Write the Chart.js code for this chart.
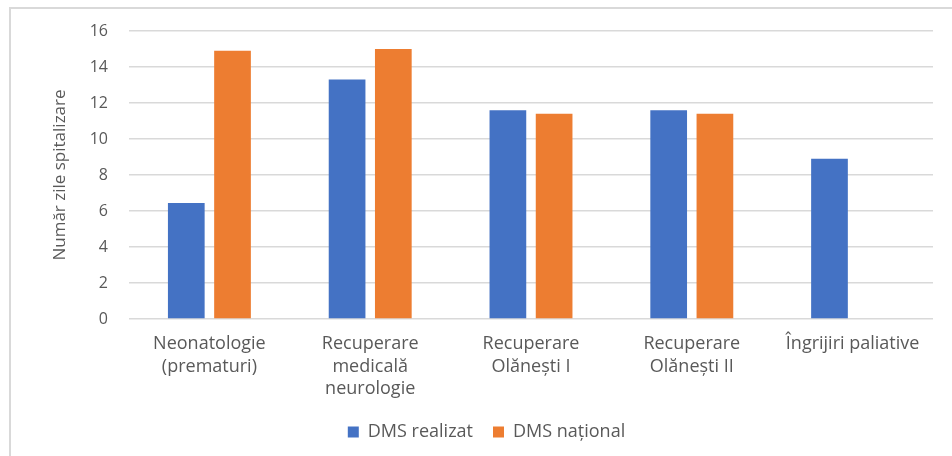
<!DOCTYPE html>
<html lang="ro">
<head>
<meta charset="utf-8">
<title>Durata medie de spitalizare</title>
<script src="https://cdn.jsdelivr.net/npm/chart.js@4/dist/chart.umd.min.js"></script>
<style>
  html, body { margin: 0; padding: 0; background: #ffffff; }
  canvas { display: block; }
</style>
</head>
<body>
<canvas id="chart" width="952" height="456"></canvas>
<script>
// Secții / categorii
const categories = [
  ["Neonatologie", "(prematuri)"],
  ["Recuperare", "medicală", "neurologie"],
  ["Recuperare", "Olănești I"],
  ["Recuperare", "Olănești II"],
  "Îngrijiri paliative"
];

// Durata medie de spitalizare (zile)
const dmsRealizat = [6.45, 13.3, 11.6, 11.6, 8.9];
const dmsNational = [14.9, 15.0, 11.4, 11.4, null];

const seriesNames = ["DMS realizat", "DMS național"];
const yTicks = [0, 2, 4, 6, 8, 10, 12, 14, 16];

const FONT = "'Open Sans', 'DejaVu Sans', sans-serif";
const TEXT = "#595959";
const GRID = "#d9d9d9";

// Chenarul exterior al diagramei (doar sus și în stânga)
const framePlugin = {
  id: "frame",
  beforeDraw(chart) {
    const ctx = chart.ctx;
    ctx.save();
    ctx.fillStyle = "#ffffff";
    ctx.fillRect(0, 0, chart.width, chart.height);
    ctx.strokeStyle = GRID;
    ctx.lineWidth = 2;
    ctx.beginPath();
    ctx.moveTo(10, chart.height);
    ctx.lineTo(10, 8);
    ctx.lineTo(chart.width, 8);
    ctx.stroke();
    ctx.restore();
  }
};

new Chart(document.getElementById("chart"), {
  type: "bar",
  data: {
    labels: categories,
    datasets: [
      { label: seriesNames[0], data: dmsRealizat, backgroundColor: "#4472C4" },
      { label: seriesNames[1], data: dmsNational, backgroundColor: "#ED7D31" }
    ]
  },
  options: {
    responsive: false,
    animation: false,
    devicePixelRatio: 1,
    layout: { padding: { left: 40, right: 19, top: 31, bottom: 5 } },
    datasets: {
      bar: { categoryPercentage: 0.575, barPercentage: 0.794 }
    },
    scales: {
      x: {
        grid: { display: false, drawTicks: false },
        border: { display: false },
        ticks: {
          autoSkip: false,
          maxRotation: 0,
          minRotation: 0,
          padding: 14,
          color: TEXT,
          font: { family: FONT, size: 18, lineHeight: 1.25 }
        },
        afterFit(scale) { scale.height = 84; }
      },
      y: {
        min: 0,
        max: 16,
        afterBuildTicks(scale) { scale.ticks = yTicks.map(v => ({ value: v })); },
        grid: { color: GRID, lineWidth: 1.5, drawTicks: false },
        border: { display: false },
        ticks: {
          padding: 21,
          color: TEXT,
          font: { family: FONT, size: 16 }
        },
        title: {
          display: true,
          text: "Număr zile spitalizare",
          color: TEXT,
          padding: { top: 10, bottom: 0 },
          font: { family: FONT, size: 17 }
        },
        afterFit(scale) { scale.width = 89; }
      }
    },
    plugins: {
      legend: {
        position: "bottom",
        labels: {
          boxWidth: 11,
          boxHeight: 11,
          padding: 20,
          color: TEXT,
          font: { family: FONT, size: 18 }
        }
      },
      tooltip: { enabled: false }
    }
  },
  plugins: [framePlugin]
});
</script>
</body>
</html>
